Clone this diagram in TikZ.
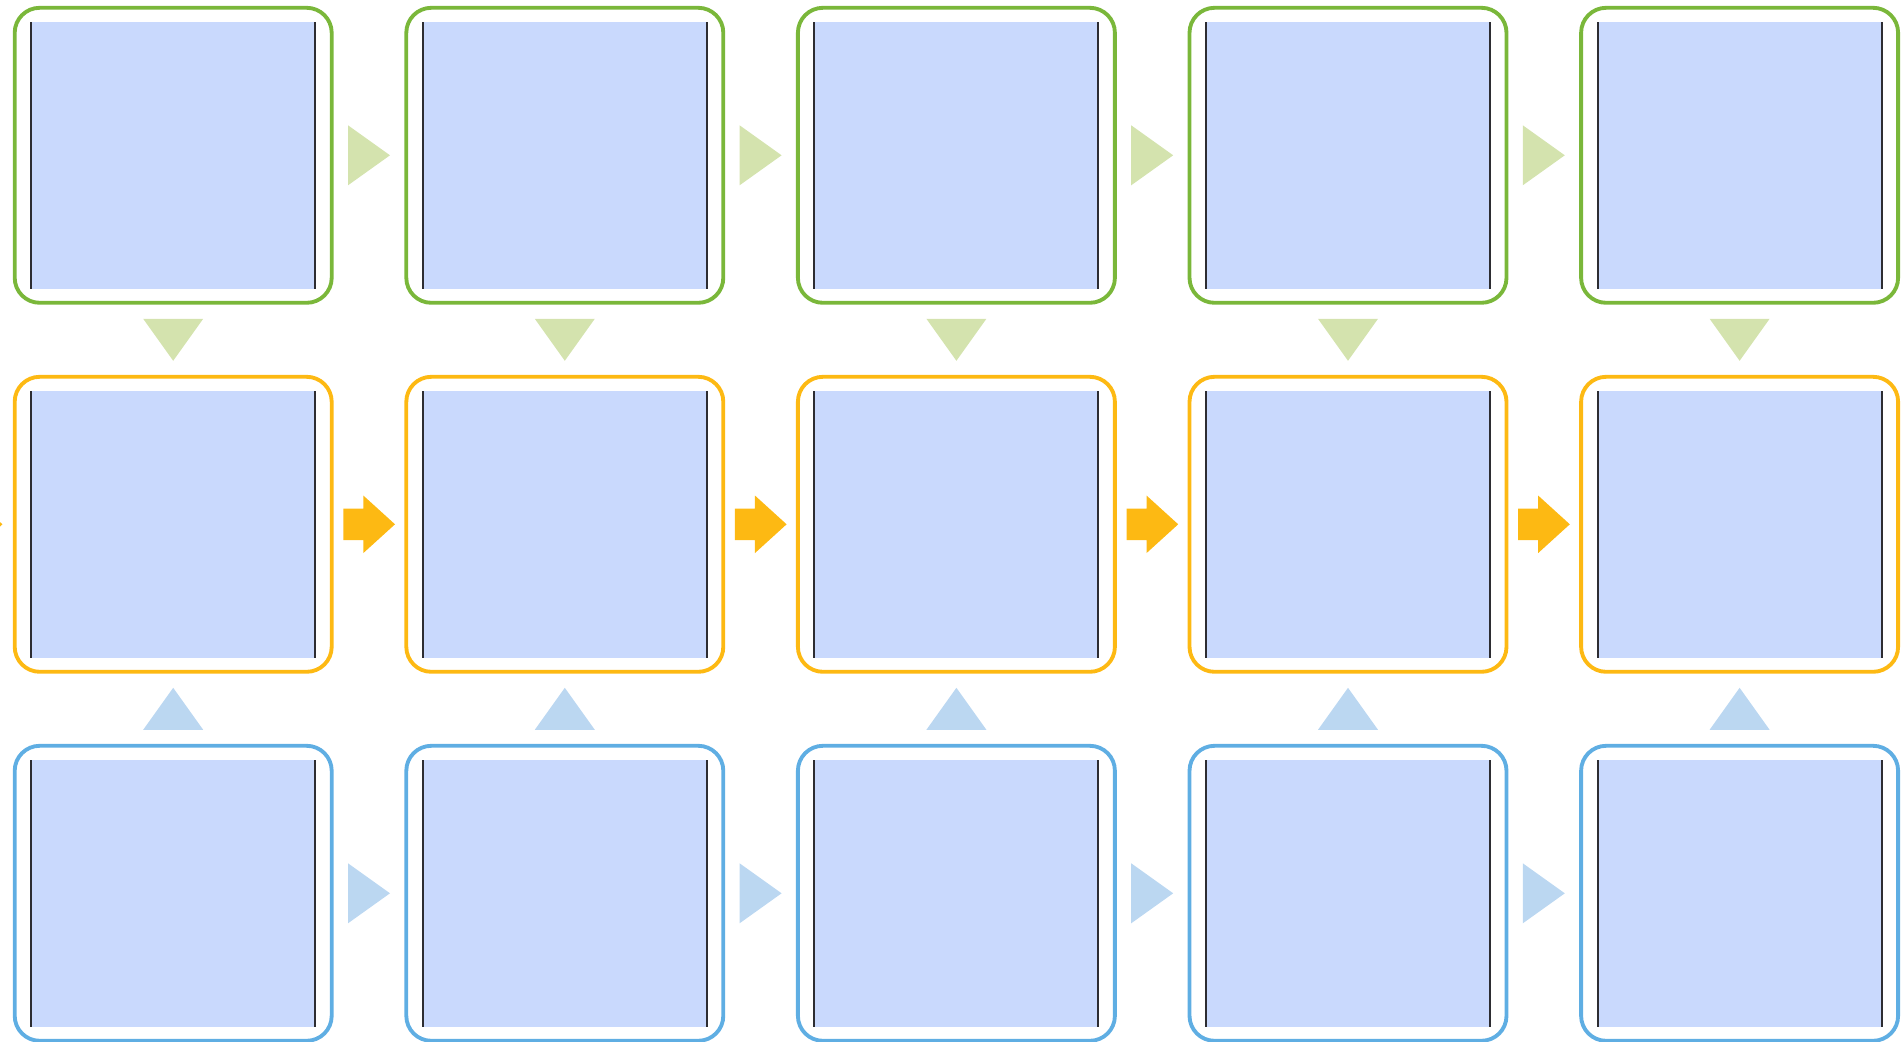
\documentclass[tikz,border=0pt]{standalone}
\usetikzlibrary{decorations.markings}
\definecolor{framegreen}{RGB}{122,183,58}
\definecolor{framegold}{RGB}{253,185,19}
\definecolor{frameblue}{RGB}{95,174,227}
\definecolor{tipgreen}{RGB}{212,227,174}
\definecolor{tipblue}{RGB}{187,215,241}
\definecolor{sheetblue}{RGB}{201,217,253}
\definecolor{edgegray}{RGB}{45,45,50}
\tikzstyle{panel} = [rectangle, draw, rounded corners=0.25cm, line width=1.1pt,
    minimum width=3.17cm, minimum height=2.95cm,
    path picture={\begin{scope}[sharp corners, shift={(path picture bounding box.center)}]
      \fill[sheetblue] (-1.42,-1.335) rectangle (1.42,1.335);
      \draw[edgegray, line width=0.6pt] (-1.42,-1.335) -- (-1.42,1.335) (1.42,-1.335) -- (1.42,1.335);
    \end{scope}}]
\tikzstyle{link_green} = [postaction=decorate, decoration={markings, mark=at position 0.5 with
    {\fill[tipgreen] (-0.21,-0.3) -- (0.21,0) -- (-0.21,0.3) -- cycle;}}]
\tikzstyle{link_blue} = [postaction=decorate, decoration={markings, mark=at position 0.5 with
    {\fill[tipblue] (-0.21,-0.3) -- (0.21,0) -- (-0.21,0.3) -- cycle;}}]
\tikzstyle{link_gold} = [postaction=decorate, decoration={markings, mark=at position 0.5 with
    {\fill[framegold] (-0.257,-0.158) -- (-0.057,-0.158) -- (-0.057,-0.288) -- (0.26,0)
      -- (-0.057,0.288) -- (-0.057,0.158) -- (-0.257,0.158) -- cycle;}}]

\begin{document}
\begin{tikzpicture}[node distance = 3.916cm]
  \useasboundingbox (0,0) rectangle (19.02,-10.42);
  \node [panel, draw=framegreen] (upper_1) at (1.732,-1.553) {};
  \node [panel, draw=framegreen, right of=upper_1] (upper_2) {};
  \node [panel, draw=framegreen, right of=upper_2] (upper_3) {};
  \node [panel, draw=framegreen, right of=upper_3] (upper_4) {};
  \node [panel, draw=framegreen, right of=upper_4] (upper_5) {};
  \node [panel, draw=framegold, below of=upper_1, node distance=3.69cm] (middle_1) {};
  \node [panel, draw=framegold, right of=middle_1] (middle_2) {};
  \node [panel, draw=framegold, right of=middle_2] (middle_3) {};
  \node [panel, draw=framegold, right of=middle_3] (middle_4) {};
  \node [panel, draw=framegold, right of=middle_4] (middle_5) {};
  \node [panel, draw=frameblue, below of=middle_1, node distance=3.69cm] (lower_1) {};
  \node [panel, draw=frameblue, right of=lower_1] (lower_2) {};
  \node [panel, draw=frameblue, right of=lower_2] (lower_3) {};
  \node [panel, draw=frameblue, right of=lower_3] (lower_4) {};
  \node [panel, draw=frameblue, right of=lower_4] (lower_5) {};
  \coordinate [left of=middle_1, node distance=2.33cm] (middle_in);
  \path [link_green] (upper_1) -- (upper_2);
  \path [link_green] (upper_2) -- (upper_3);
  \path [link_green] (upper_3) -- (upper_4);
  \path [link_green] (upper_4) -- (upper_5);
  \path [link_green] (upper_1) -- (middle_1);
  \path [link_green] (upper_2) -- (middle_2);
  \path [link_green] (upper_3) -- (middle_3);
  \path [link_green] (upper_4) -- (middle_4);
  \path [link_green] (upper_5) -- (middle_5);
  \path [link_gold] (middle_in) -- (middle_1);
  \path [link_gold] (middle_1) -- (middle_2);
  \path [link_gold] (middle_2) -- (middle_3);
  \path [link_gold] (middle_3) -- (middle_4);
  \path [link_gold] (middle_4) -- (middle_5);
  \path [link_blue] (lower_1) -- (middle_1);
  \path [link_blue] (lower_2) -- (middle_2);
  \path [link_blue] (lower_3) -- (middle_3);
  \path [link_blue] (lower_4) -- (middle_4);
  \path [link_blue] (lower_5) -- (middle_5);
  \path [link_blue] (lower_1) -- (lower_2);
  \path [link_blue] (lower_2) -- (lower_3);
  \path [link_blue] (lower_3) -- (lower_4);
  \path [link_blue] (lower_4) -- (lower_5);
\end{tikzpicture}
\end{document}
